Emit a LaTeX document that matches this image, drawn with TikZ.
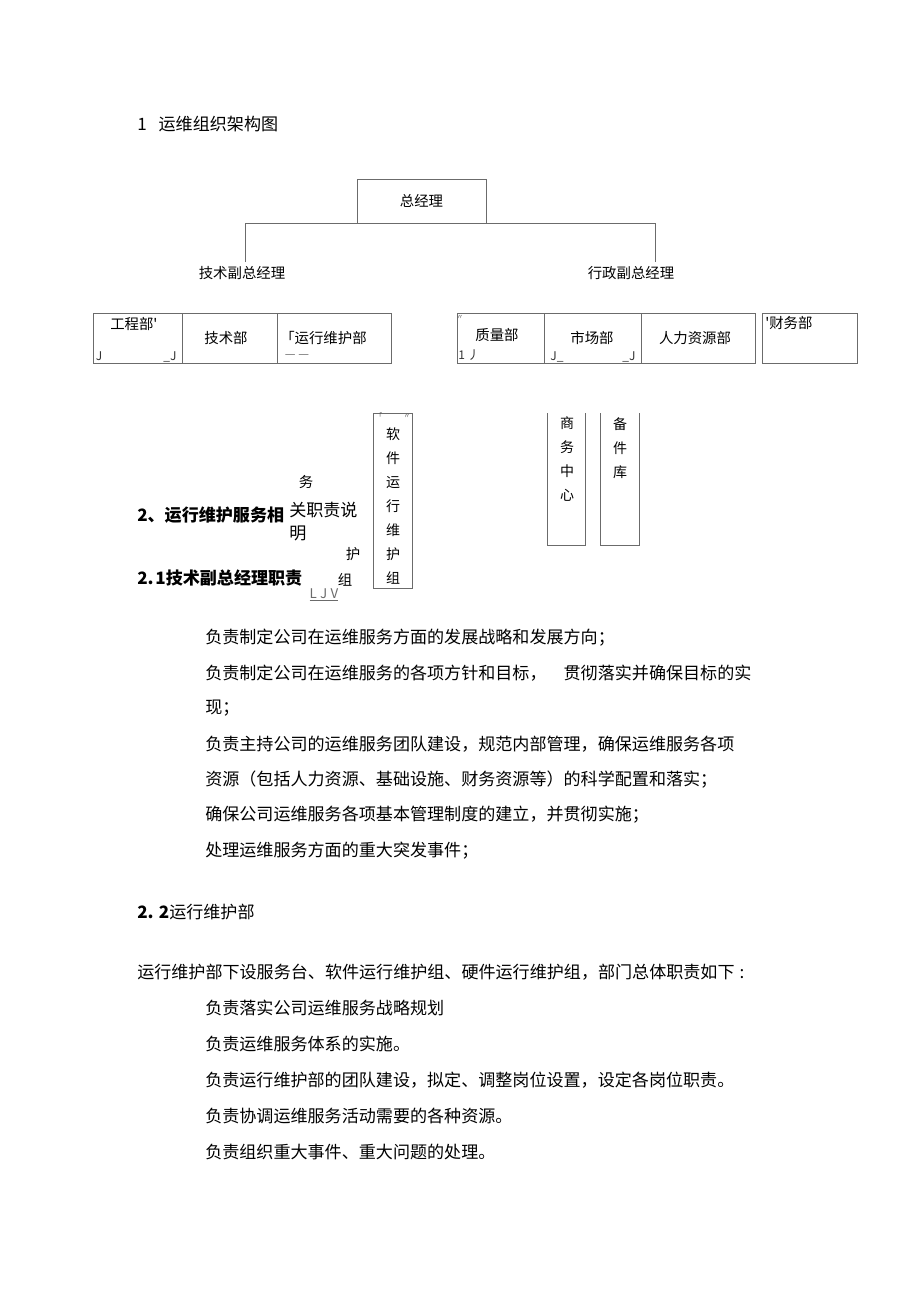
\documentclass[tikz,border=0pt]{standalone}
\usepackage{fontspec}
\setmainfont{Noto Sans CJK SC}
\definecolor{linegray}{gray}{0.42}

\tikzset{
  link/.style={draw=linegray, line width=0.7pt},
  unitbox/.style={draw=linegray, line width=0.7pt, inner sep=0pt, minimum height=37.5pt},
  orgtext/.style={font=\fontsize{10.8}{13}\selectfont, inner sep=0pt},
  bodytext/.style={font=\fontsize{12.8}{15}\selectfont, anchor=west, inner sep=0pt},
  headtext/.style={font=\bfseries\fontsize{12.8}{15}\selectfont, anchor=west, inner sep=0pt},
  vtext/.style={font=\fontsize{10.5}{18}\selectfont, align=center, inner sep=0pt},
  marktext/.style={font=\fontsize{9}{10}\selectfont, inner sep=0pt, text=black!80},
  tinymark/.style={font=\fontsize{5}{5}\selectfont, inner sep=0pt, text=black!70},
}

\begin{document}
\begin{tikzpicture}[x=0.75pt, y=-0.75pt]
    \fill [white] (0, 0) rectangle (920, 1303);
    \useasboundingbox (0, 0) rectangle (920, 1303);
    % title
    \node [bodytext] (title) at (137, 124) {1\hspace{0.7em}运维组织架构图};
    % top
    \node [unitbox, orgtext, minimum width=96.75pt, minimum height=33pt] (gm) at (421.5, 201) {总经理};
    \node [orgtext] (tvp) at (242, 273) {技术副总经理};
    \node [orgtext] (avp) at (631, 273) {行政副总经理};
    \coordinate (tvp-in) at (245, 262);
    \coordinate (avp-in) at (655, 262);
    \draw [link] (tvp-in) |- (gm.south) -| (avp-in);
    % technical row
    \node [unitbox, minimum width=66.75pt] (eng)  at (137.5, 338) {};
    \node [unitbox, minimum width=71.25pt] (tech) at (229.5, 338) {};
    \node [unitbox, minimum width=85.5pt]  (ops)  at (334, 338) {};
    \node [orgtext, anchor=west] (engtxt) at (110, 324) {工程部\textquotesingle};
    \node [orgtext]              (techtxt) at (226, 338) {技术部};
    \node [orgtext, anchor=west] (opstxt) at (280, 338) {「运行维护部};
    \node [marktext] (engj1) at (99, 356) {J};
    \node [marktext] (engj2) at (170, 357) {\_J};
    \node [marktext, text=linegray] (opsdash) at (297, 357) {— —};
    % admin row
    \node [unitbox, minimum width=65.25pt] (qa)  at (500.5, 338) {};
    \node [unitbox, minimum width=72.75pt] (mkt) at (592.5, 338) {};
    \node [unitbox, minimum width=85.5pt]  (hr)  at (698, 338) {};
    \node [unitbox, minimum width=71.25pt] (fin) at (809.5, 338) {};
    \node [orgtext] (qatxt)  at (497, 335) {质量部};
    \node [orgtext] (mkttxt) at (592, 338) {市场部};
    \node [orgtext] (hrtxt)  at (695, 338) {人力资源部};
    \node [orgtext, anchor=west] (fintxt) at (765, 323) {\textquotesingle 财务部};
    \node [tinymark] (qamark) at (460, 317) {〃};
    \node [marktext] (qaj)   at (469, 355) {1 丿};
    \node [marktext] (mktj1) at (557, 357) {J\_};
    \node [marktext] (mktj2) at (629, 357) {\_J};
    % groups
    \node [unitbox, minimum width=29.25pt, minimum height=131.25pt] (swbox) at (392.5, 500.5) {};
    \node [vtext] (swtxt) at (393, 506) {软\\件\\运\\行\\维\\护\\组};
    \node [tinymark] (swmark1) at (379, 416) {「};
    \node [tinymark] (swmark2) at (407, 416) {〃};
    \draw [link] (547, 413) -- (547, 545) -- (585, 545) -- (585, 413);
    \draw [link] (600, 413) -- (600, 545) -- (639, 545) -- (639, 413);
    \node [vtext] (biztxt)   at (567, 459) {商\\务\\中\\心};
    \node [vtext] (sparetxt) at (620, 448) {备\\件\\库};
    % section 2
    \node [orgtext]  (frag1) at (306, 482) {务};
    \node [headtext] (sec2)  at (137, 515) {2、运行维护服务相};
    \node [bodytext] (frag2) at (289, 510) {关职责说};
    \node [bodytext] (frag3) at (289, 533) {明};
    \node [orgtext]  (frag4) at (353, 554) {护};
    \node [headtext] (sec21) at (137, 578) {2.\hspace{0.1em}1技术副总经理职责};
    \node [orgtext]  (frag5) at (345, 580) {组};
    \node [marktext, text=linegray, font=\fontsize{10}{11}\selectfont] (frag6) at (324, 595) {\underline{L\hspace{0.25em}J\hspace{0.25em}V}};
    % duties 2.1
    \node [bodytext] (d1) at (205, 638) {负责制定公司在运维服务方面的发展战略和发展方向；};
    \node [bodytext] (d2) at (205, 673) {负责制定公司在运维服务的各项方针和目标，\hspace{1em}贯彻落实并确保目标的实};
    \node [bodytext] (d3) at (205, 708) {现；};
    \node [bodytext] (d4) at (205, 744) {负责主持公司的运维服务团队建设，规范内部管理，确保运维服务各项};
    \node [bodytext] (d5) at (205, 780) {资源（包括人力资源、基础设施、财务资源等）的科学配置和落实；};
    \node [bodytext] (d6) at (205, 815) {确保公司运维服务各项基本管理制度的建立，并贯彻实施；};
    \node [bodytext] (d7) at (205, 851) {处理运维服务方面的重大突发事件；};
    % 2.2
    \node [bodytext] (sec22) at (137, 912) {{\bfseries 2. 2}运行维护部};
    \node [bodytext] (intro) at (137, 972) {运行维护部下设服务台、软件运行维护组、硬件运行维护组，部门总体职责如下\hspace{0.3em}:};
    \node [bodytext] (e1) at (205, 1008) {负责落实公司运维服务战略规划};
    \node [bodytext] (e2) at (205, 1044) {负责运维服务体系的实施。};
    \node [bodytext] (e3) at (205, 1080) {负责运行维护部的团队建设，拟定、调整岗位设置，设定各岗位职责。};
    \node [bodytext] (e4) at (205, 1116) {负责协调运维服务活动需要的各种资源。};
    \node [bodytext] (e5) at (205, 1152) {负责组织重大事件、重大问题的处理。};
  \end{tikzpicture}
\end{document}
